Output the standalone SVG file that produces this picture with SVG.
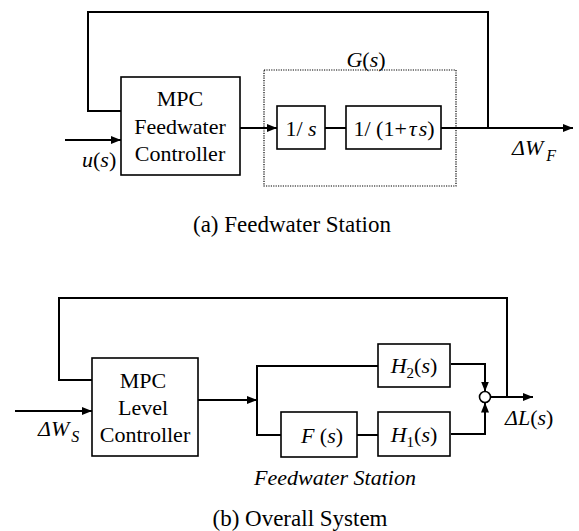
<svg xmlns="http://www.w3.org/2000/svg" width="579" height="531" viewBox="0 0 579 531" font-family="'Liberation Serif', 'Times New Roman', 'DejaVu Serif', serif">
<style>
text{font-family:"Liberation Serif","Times New Roman","DejaVu Serif",serif;font-size:22px;fill:#000}
.c{text-anchor:middle}
.i{font-style:italic}
.box{fill:#fff;stroke:#000;stroke-width:1.6}
.dot{fill:none;stroke:#000;stroke-width:1.2;stroke-dasharray:1.2 1.2}
.ln{fill:none;stroke:#000;stroke-width:2}
.cap{font-size:23px}
</style>
<defs>
<marker id="ah" viewBox="0 0 10 8" refX="10" refY="4" markerWidth="10" markerHeight="8" markerUnits="userSpaceOnUse" orient="auto">
<path d="M0,0 L10,4 L0,8 Z" fill="#000"/>
</marker>
</defs>

<g id="connectors">
<path class="ln" d="M121,111 H88 V12 H488 V128"/>
<path class="ln" d="M65,140 H121" marker-end="url(#ah)"/>
<path class="ln" d="M240,128 H277" marker-end="url(#ah)"/>
<path class="ln" d="M325,128 H346"/>
<path class="ln" d="M441,128 H573" marker-end="url(#ah)"/>
<path class="ln" d="M92,380 H59 V298 H507 V397"/>
<path class="ln" d="M15,411 H92" marker-end="url(#ah)"/>
<path class="ln" d="M198,400 H257" marker-end="url(#ah)"/>
<path class="ln" d="M378,366 H257 V435 H281"/>
<path class="ln" d="M357,435 H378"/>
<path class="ln" d="M451,364 H485 V391.5" marker-end="url(#ah)"/>
<path class="ln" d="M451,434 H485 V402.5" marker-end="url(#ah)"/>
<path class="ln" d="M490.5,397 H533" marker-end="url(#ah)"/>
</g>

<g id="mpc-feedwater">
<rect class="box" x="121" y="77" width="119" height="98"/>
<text class="c" x="180" y="106">MPC</text>
<text class="c" x="180" y="134">Feedwater</text>
<text class="c" x="180" y="161">Controller</text>
</g>

<g id="G">
<rect class="dot" x="264" y="70" width="192" height="116"/>
<text class="c" x="366" y="67"><tspan class="i">G</tspan>(<tspan class="i">s</tspan>)</text>
</g>

<g id="integrator">
<rect class="box" x="277" y="106" width="48" height="43"/>
<text class="c" x="301" y="136">1/ <tspan class="i">s</tspan></text>
</g>

<g id="lag">
<rect class="box" x="346" y="106" width="95" height="43"/>
<text class="c" x="394" y="136">1/ (1+<tspan class="i" dx="2">τ</tspan><tspan class="i" dx="2">s</tspan>)</text>
</g>

<g id="label-u">
<text x="82" y="167"><tspan class="i">u</tspan>(<tspan class="i">s</tspan>)</text>
</g>
<g id="label-dWF">
<text class="i" x="512" y="155">ΔW<tspan font-size="16" dx="3" dy="6">F</tspan></text>
</g>
<g id="caption-a">
<text class="c cap" x="292" y="232">(a) Feedwater Station</text>
</g>

<g id="mpc-level">
<rect class="box" x="92" y="358" width="106" height="98"/>
<text class="c" x="143" y="388">MPC</text>
<text class="c" x="143" y="415">Level</text>
<text class="c" x="145" y="442">Controller</text>
</g>

<g id="H2">
<rect class="box" x="378" y="344" width="72" height="43"/>
<text class="c" x="414" y="373"><tspan class="i">H</tspan><tspan font-size="15" dy="5">2</tspan><tspan dy="-5">(</tspan><tspan class="i">s</tspan>)</text>
</g>

<g id="F">
<rect class="box" x="281" y="412" width="76" height="45"/>
<text class="c" x="322" y="443"><tspan class="i">F</tspan> (<tspan class="i">s</tspan>)</text>
</g>

<g id="H1">
<rect class="box" x="378" y="412" width="72" height="44"/>
<text class="c" x="414" y="442"><tspan class="i">H</tspan><tspan font-size="15" dy="5">1</tspan><tspan dy="-5">(</tspan><tspan class="i">s</tspan>)</text>
</g>

<g id="sum">
<circle cx="485" cy="397" r="5.5" fill="#fff" stroke="#000" stroke-width="1.6"/>
</g>

<g id="label-dWS">
<text class="i" x="38" y="436">ΔW<tspan font-size="16" dx="2" dy="6">S</tspan></text>
</g>
<g id="label-dL">
<text x="505" y="425"><tspan class="i">ΔL</tspan>(<tspan class="i">s</tspan>)</text>
</g>
<g id="label-fs">
<text class="c i" x="335" y="485">Feedwater Station</text>
</g>
<g id="caption-b">
<text class="c cap" x="300" y="526">(b) Overall System</text>
</g>
</svg>
